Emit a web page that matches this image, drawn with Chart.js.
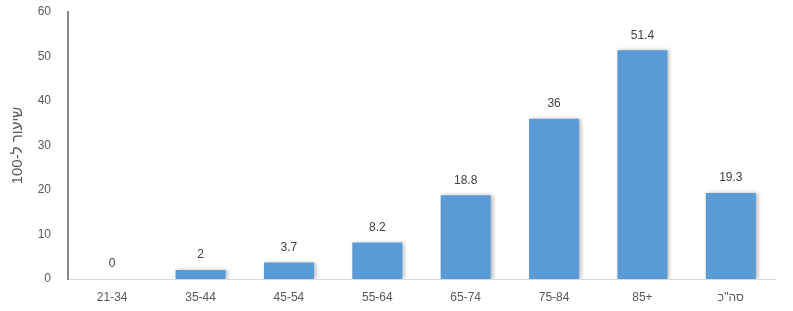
<!DOCTYPE html>
<html>
<head>
<meta charset="utf-8">
<script src="https://cdn.jsdelivr.net/npm/chart.js@4/dist/chart.umd.min.js"></script>
<style>
  html, body { margin: 0; padding: 0; background: #fff; }
  #wrap { width: 793px; height: 311px; }
</style>
</head>
<body>
<div id="wrap"><canvas id="rateChart"></canvas></div>
<script>
// Data
const ageGroups = ['21-34', '35-44', '45-54', '55-64', '65-74', '75-84', '85+', 'סה"כ'];
const rates = [0, 2, 3.7, 8.2, 18.8, 36, 51.4, 19.3];
const yTicks = [0, 10, 20, 30, 40, 50, 60];
const yTitle = 'שיעור ל-100';

const fontFamily = "'Liberation Sans', 'DejaVu Sans', sans-serif";

// soft shadow on the right side of the bars
const barShadow = {
  id: 'barShadow',
  beforeDatasetsDraw(chart) {
    const ctx = chart.ctx;
    ctx.save();
    ctx.shadowColor = 'rgba(0,0,0,0.28)';
    ctx.shadowBlur = 4;
    ctx.shadowOffsetX = 2;
    ctx.shadowOffsetY = 0;
  },
  afterDatasetsDraw(chart) {
    chart.ctx.restore();
  }
};

// value labels above each bar
const valueLabels = {
  id: 'valueLabels',
  afterDatasetsDraw(chart) {
    const ctx = chart.ctx;
    const meta = chart.getDatasetMeta(0);
    ctx.save();
    ctx.font = '12px ' + fontFamily;
    ctx.fillStyle = '#404040';
    ctx.textAlign = 'center';
    ctx.textBaseline = 'middle';
    meta.data.forEach((bar, i) => {
      ctx.fillText(String(rates[i]), bar.x, bar.y - 15);
    });
    ctx.restore();
  }
};

window.onload = function () {
  const ctx = document.getElementById('rateChart').getContext('2d');

  new Chart(ctx, {
    type: 'bar',
    data: {
      labels: ageGroups,
      datasets: [{
        data: rates,
        backgroundColor: '#5B9BD5',
        borderWidth: 0,
        barPercentage: 0.566,
        categoryPercentage: 1.0
      }]
    },
    options: {
      responsive: true,
      maintainAspectRatio: false,
      animation: false,
      layout: {
        padding: { top: 12, right: 18, bottom: 0, left: 0 }
      },
      plugins: {
        legend: { display: false },
        tooltip: { enabled: false }
      },
      scales: {
        x: {
          grid: { display: false, drawTicks: false },
          border: { display: true, color: '#d9d9d9', width: 1 },
          ticks: {
            color: '#595959',
            padding: 11,
            maxRotation: 0,
            font: { family: fontFamily, size: 12 }
          },
          afterFit(scale) { scale.height = 32; }
        },
        y: {
          min: 0,
          max: 60,
          afterBuildTicks(scale) {
            scale.ticks = yTicks.map(v => ({ value: v }));
          },
          grid: { display: false, drawTicks: false },
          border: { display: true, color: '#888888', width: 2 },
          ticks: {
            color: '#595959',
            padding: 17,
            font: { family: fontFamily, size: 12 }
          },
          title: {
            display: true,
            text: yTitle,
            color: '#595959',
            padding: { top: 9, bottom: 0 },
            font: { family: fontFamily, size: 15 }
          },
          afterFit(scale) {
            scale.width = 68;
            scale.paddingTop = 0;
            scale.paddingBottom = 0;
          }
        }
      }
    },
    plugins: [barShadow, valueLabels]
  });
};
</script>
</body>
</html>
